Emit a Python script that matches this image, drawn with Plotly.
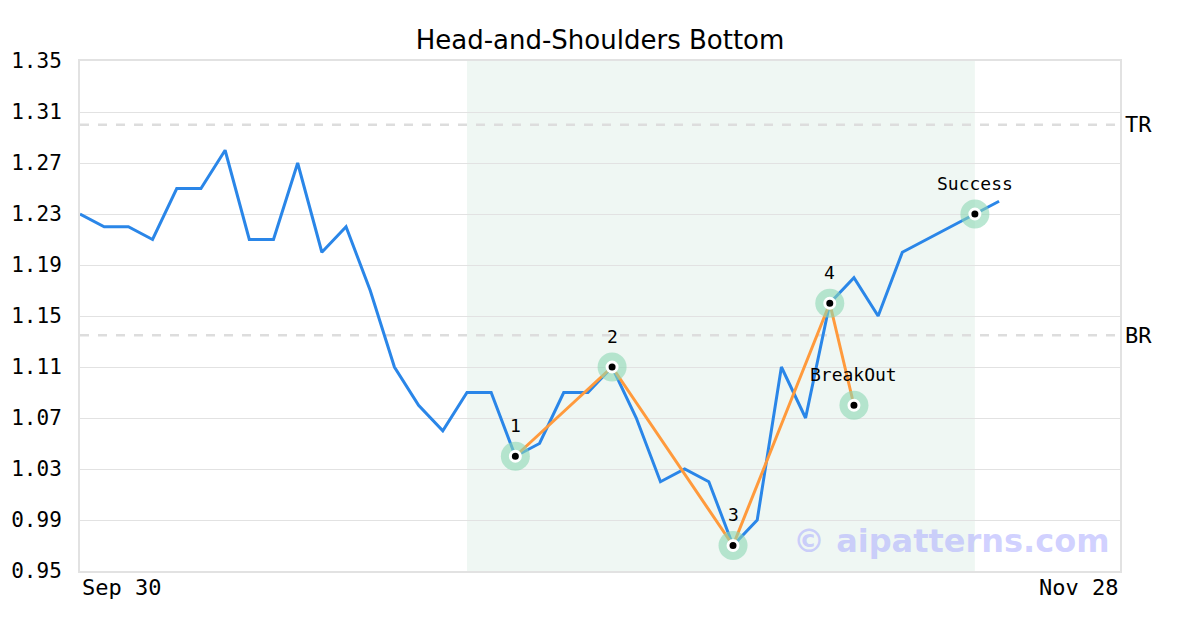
import plotly.graph_objects as go

# ---------------------------------------------------------------------------
# Data (trading-day index 0..43, Sep 30 .. Nov 28)
# ---------------------------------------------------------------------------
price_idx = list(range(39))
price = [1.23, 1.22, 1.22, 1.21, 1.25, 1.25, 1.28, 1.21, 1.21, 1.27,
         1.20, 1.22, 1.17, 1.11, 1.08, 1.06, 1.09, 1.09, 1.04, 1.05,
         1.09, 1.09, 1.11, 1.07, 1.02, 1.03, 1.02, 0.97, 0.99, 1.11,
         1.07, 1.16, 1.18, 1.15, 1.20, 1.21, 1.22, 1.23, 1.24]

pattern_idx = [18, 22, 27, 31, 32]
pattern_val = [1.04, 1.11, 0.97, 1.16, 1.08]
pattern_lbl = ["1", "2", "3", "4", "BreakOut"]

success_idx = 37
success_val = 1.23

zone_start, zone_end = 16, 37
tr_level = 1.30
br_level = 1.135

x_labels = ["Sep 30", "Nov 28"]
x_max = 43

BLUE = "#2a86e8"
ORANGE = "#ff9a3c"
GRID = "#e2e2e2"
MONO = "DejaVu Sans Mono"

fig = go.Figure()

fig.add_vrect(x0=zone_start, x1=zone_end, fillcolor="#eff7f3", line_width=0, layer="below")

for lvl in (tr_level, br_level):
    fig.add_hline(y=lvl, line=dict(color="#dddddd", width=2.5, dash="dash"), layer="below")

fig.add_trace(go.Scatter(
    x=price_idx, y=price, mode="lines",
    line=dict(color=BLUE, width=3), hoverinfo="skip", showlegend=False,
))
fig.add_trace(go.Scatter(
    x=pattern_idx, y=pattern_val, mode="lines",
    line=dict(color=ORANGE, width=3), hoverinfo="skip", showlegend=False,
))

mark_x = pattern_idx + [success_idx]
mark_y = pattern_val + [success_val]
fig.add_trace(go.Scatter(
    x=mark_x, y=mark_y, mode="markers",
    marker=dict(size=29, color="rgba(140,215,180,0.6)"),
    hoverinfo="skip", showlegend=False,
))
fig.add_trace(go.Scatter(
    x=mark_x, y=mark_y, mode="markers",
    marker=dict(size=10, color="black", line=dict(color="white", width=3)),
    hoverinfo="skip", showlegend=False,
))

for x, y, t in zip(mark_x, mark_y, pattern_lbl + ["Success"]):
    fig.add_annotation(x=x, y=y, text=t, showarrow=False, yshift=31,
                       font=dict(family=MONO, size=18, color="black"))

for lvl, name in ((tr_level, "TR"), (br_level, "BR")):
    fig.add_annotation(xref="paper", yref="y", x=1, y=lvl, text=name, showarrow=False,
                       xanchor="left", xshift=3, font=dict(family=MONO, size=22, color="black"))

fig.add_annotation(xref="paper", yref="paper", x=0, y=0, text=x_labels[0], showarrow=False,
                   xanchor="left", yanchor="top", yshift=-2,
                   font=dict(family=MONO, size=22, color="black"))
fig.add_annotation(xref="paper", yref="paper", x=1, y=0, text=x_labels[1], showarrow=False,
                   xanchor="right", yanchor="top", yshift=-2,
                   font=dict(family=MONO, size=22, color="black"))

fig.add_annotation(xref="paper", yref="paper", x=0.99, y=0.03, text="<b>© aipatterns.com</b>",
                   showarrow=False, xanchor="right", yanchor="bottom", xshift=2, yshift=-6,
                   font=dict(family="DejaVu Sans", size=32, color="rgba(170,170,255,0.55)"))

fig.update_layout(
    width=1200, height=630,
    title=dict(text="Head-and-Shoulders Bottom", x=(72 + 1040 / 2) / 1200, xanchor="center",
               yref="container", y=1 - 32 / 630, yanchor="middle",
               font=dict(family="DejaVu Sans", size=26, color="black")),
    plot_bgcolor="white", paper_bgcolor="white",
    margin=dict(l=72, r=88, t=53, b=67, autoexpand=False),
    xaxis=dict(range=[0, x_max], showgrid=False, zeroline=False, showticklabels=False,
               showline=True, linecolor=GRID, linewidth=2, mirror=True, automargin=False),
    yaxis=dict(range=[0.95, 1.35], tick0=0.95, dtick=0.04, tickformat=".2f",
               gridcolor=GRID, gridwidth=1, zeroline=False,
               showline=True, linecolor=GRID, linewidth=2, mirror=True,
               ticklabelstandoff=12, automargin=False,
               tickfont=dict(family=MONO, size=21, color="black")),
)

fig.write_html("out.html")
